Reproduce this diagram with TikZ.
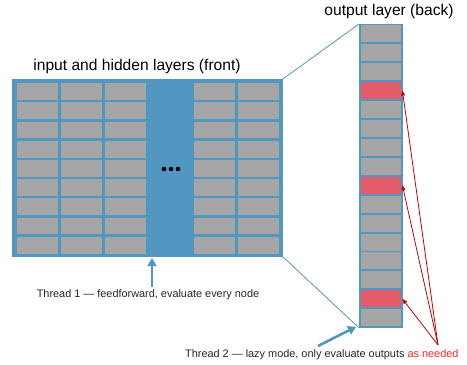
\documentclass[tikz,border=0pt]{standalone}
\usepackage{fontspec}
\setmainfont{Liberation Sans}
\usetikzlibrary{positioning,arrows.meta}

\definecolor{layerblue}{RGB}{82,150,194}
\definecolor{cellgray}{RGB}{166,166,166}
\definecolor{cellred}{RGB}{226,92,106}
\definecolor{arrowred}{RGB}{200,0,0}
\definecolor{textred}{RGB}{255,40,40}

\tikzset{
  layerbox/.style={draw=layerblue,fill=layerblue,line width=0.8pt,inner sep=0pt,anchor=north west},
  nodecell/.style={fill=cellgray,inner sep=0pt,anchor=north west},
  hitcell/.style={fill=cellred,inner sep=0pt,anchor=north west},
  titletext/.style={font=\fontsize{15.6}{17}\selectfont},
  threadtext/.style={font=\fontsize{10.9}{12}\selectfont,text=black!85},
  threadarrow/.style={draw=layerblue,line width=2.6pt,-{Triangle[length=8pt,width=9pt]}},
  needarrow/.style={draw=arrowred,line width=0.8pt,-{Triangle[length=5pt,width=4pt]}},
  persp/.style={draw=layerblue,line width=0.8pt}
}

\begin{document}
\begin{tikzpicture}[x=1pt,y=-1pt]
		\useasboundingbox (0,0) rectangle (467,365);
		% front block: input and hidden layers
		\node[layerbox,minimum width=270pt,minimum height=177pt] (front) at (12,79) {};
		\foreach \cx [count=\c] in {17,61,105,194,238}
			\foreach \r in {0,...,8}
				\node[nodecell,minimum width=41pt,minimum height=16.8pt] (f\c-\r) at (\cx,83+\r*19.2) {};
		\foreach \dx in {-7,0,7}
			\fill[black] (171+\dx,169) circle (2.3pt);
		\node[titletext] (fronttitle) at (137,66) {input and hidden layers (front)};
		% back block: output layer
		\node[layerbox,minimum width=43pt,minimum height=303pt] (back) at (359,24) {};
		\foreach \r in {0,...,15}
			\node[nodecell,minimum width=40pt,minimum height=17pt] (o\r) at (360.5,25+\r*18.94) {};
		\foreach \r in {3,8,14}
			\node[hitcell,minimum width=40pt,minimum height=17pt] (o\r) at (360.5,25+\r*18.94) {};
		\node[titletext] (backtitle) at (389,11) {output layer (back)};
		% perspective lines
		\draw[persp] (front.north east) -- (back.north west);
		\draw[persp] (front.south east) -- (back.south west);
		% thread 1
		\node[threadtext] (thread1) at (148,295) {Thread 1 --- feedforward, evaluate every node};
		\draw[threadarrow] (152,287) coordinate (t1tail) -- (152,258) coordinate (t1head);
		% thread 2
		\node[threadtext,anchor=east] (thread2) at (462,355) {Thread 2 --- lazy mode, only evaluate outputs \textcolor{textred}{as needed}};
		\coordinate (t2tail) at (318,346);
		\draw[threadarrow] (t2tail) -- ([xshift=-3pt,yshift=1pt]back.south west);
		\coordinate (needs) at (438,345);
		\foreach \r in {3,8,14}
			\draw[needarrow] (needs) -- ([xshift=1.5pt]o\r.east);
	\end{tikzpicture}
\end{document}
